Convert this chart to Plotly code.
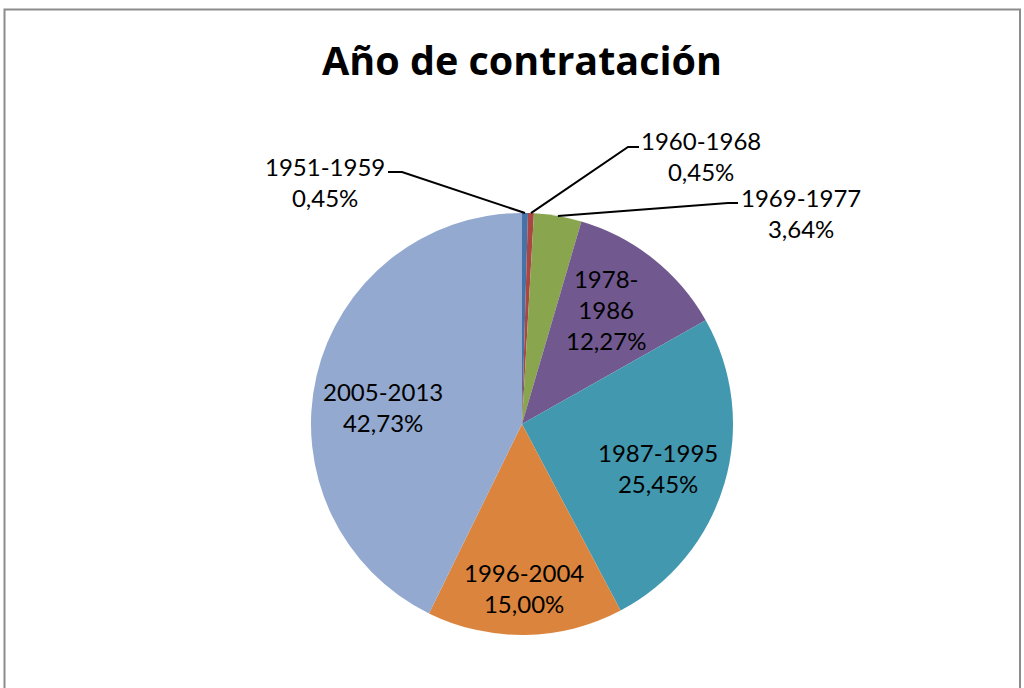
import math
import plotly.graph_objects as go

# datos
periodos = ["1951-1959", "1960-1968", "1969-1977", "1978-1986",
            "1987-1995", "1996-2004", "2005-2013"]
etiquetas = ["1951-1959", "1960-1968", "1969-1977", "1978-<br>1986",
             "1987-1995", "1996-2004", "2005-2013"]
porcentajes = [0.45, 0.45, 3.64, 12.27, 25.45, 15.00, 42.73]
colores = ["#4572A7", "#AA4643", "#89A54E", "#71588F",
           "#4198AF", "#DB843D", "#93A9CF"]

W, H = 1024, 688
cx, cy, r = 522, 424, 211   # centro y radio en píxeles
fuente = "Lato"

def px(x, y):
    return x / W, 1 - y / H

def pct(v):
    return f"{v:.2f}".replace(".", ",") + "%"

fig = go.Figure()
fig.add_trace(go.Pie(
    labels=periodos, values=porcentajes, sort=False,
    direction="clockwise", rotation=0,
    marker=dict(colors=colores, line=dict(width=0)),
    textinfo="none", hoverinfo="label+percent", showlegend=False,
    domain=dict(x=[(cx - r) / W, (cx + r) / W],
                y=[1 - (cy + r) / H, 1 - (cy - r) / H]),
))

# ángulos medios de cada porción (desde las 12, en sentido horario)
total = sum(porcentajes)
medios = []
acum = 0
for v in porcentajes:
    medios.append((acum + v / 2) / total * 2 * math.pi)
    acum += v

# etiquetas interiores: posición (px) del centro del texto
pos_int = {3: (606, 309), 4: (658, 468), 5: (524, 588), 6: (383, 407)}
for i, (lx, ly) in pos_int.items():
    x, y = px(lx, ly)
    fig.add_annotation(x=x, y=y, xref="paper", yref="paper",
                       text=etiquetas[i] + "<br>" + pct(porcentajes[i]),
                       showarrow=False, font=dict(family=fuente, size=24, color="black"),
                       xanchor="center", yanchor="middle")

# etiquetas exteriores con líneas guía: (centro del texto, codo, extremo junto al texto)
exteriores = {
    0: ((325, 182), (402, 172), (388, 172)),
    1: ((701, 156), (628, 147), (639, 147)),
    2: ((801, 213), (728, 203), (738, 203)),
}
for i, (centro, codo, fin) in exteriores.items():
    a = medios[i]
    bx, by = cx + r * math.sin(a), cy - r * math.cos(a)
    p0 = px(bx, by); p1 = px(*codo); p2 = px(*fin)
    fig.add_shape(type="path", xref="paper", yref="paper",
                  path=f"M {p0[0]} {p0[1]} L {p1[0]} {p1[1]} L {p2[0]} {p2[1]}",
                  line=dict(color="black", width=2))
    x, y = px(*centro)
    fig.add_annotation(x=x, y=y, xref="paper", yref="paper",
                       text=etiquetas[i] + "<br>" + pct(porcentajes[i]),
                       showarrow=False, font=dict(family=fuente, size=24, color="black"),
                       xanchor="center", yanchor="middle")

# marco del gráfico
x0, y0 = px(4.5, 9.5)
x1, y1 = px(1020, 720)
fig.add_shape(type="rect", xref="paper", yref="paper", x0=x0, y0=y1, x1=x1, y1=y0,
              line=dict(color="#8c8c8c", width=2), layer="below")

tx, ty = px(522, 60)
fig.add_annotation(x=tx, y=ty, xref="paper", yref="paper", text="<b>Año de contratación</b>",
                   showarrow=False, font=dict(family="Open Sans", size=39.5, color="black"),
                   xanchor="center", yanchor="middle")

fig.update_layout(width=W, height=H, margin=dict(l=0, r=0, t=0, b=0),
                  paper_bgcolor="white", plot_bgcolor="white")
fig.write_html("out.html", config={"displayModeBar": False},
               post_script="document.body.style.margin='0';")
